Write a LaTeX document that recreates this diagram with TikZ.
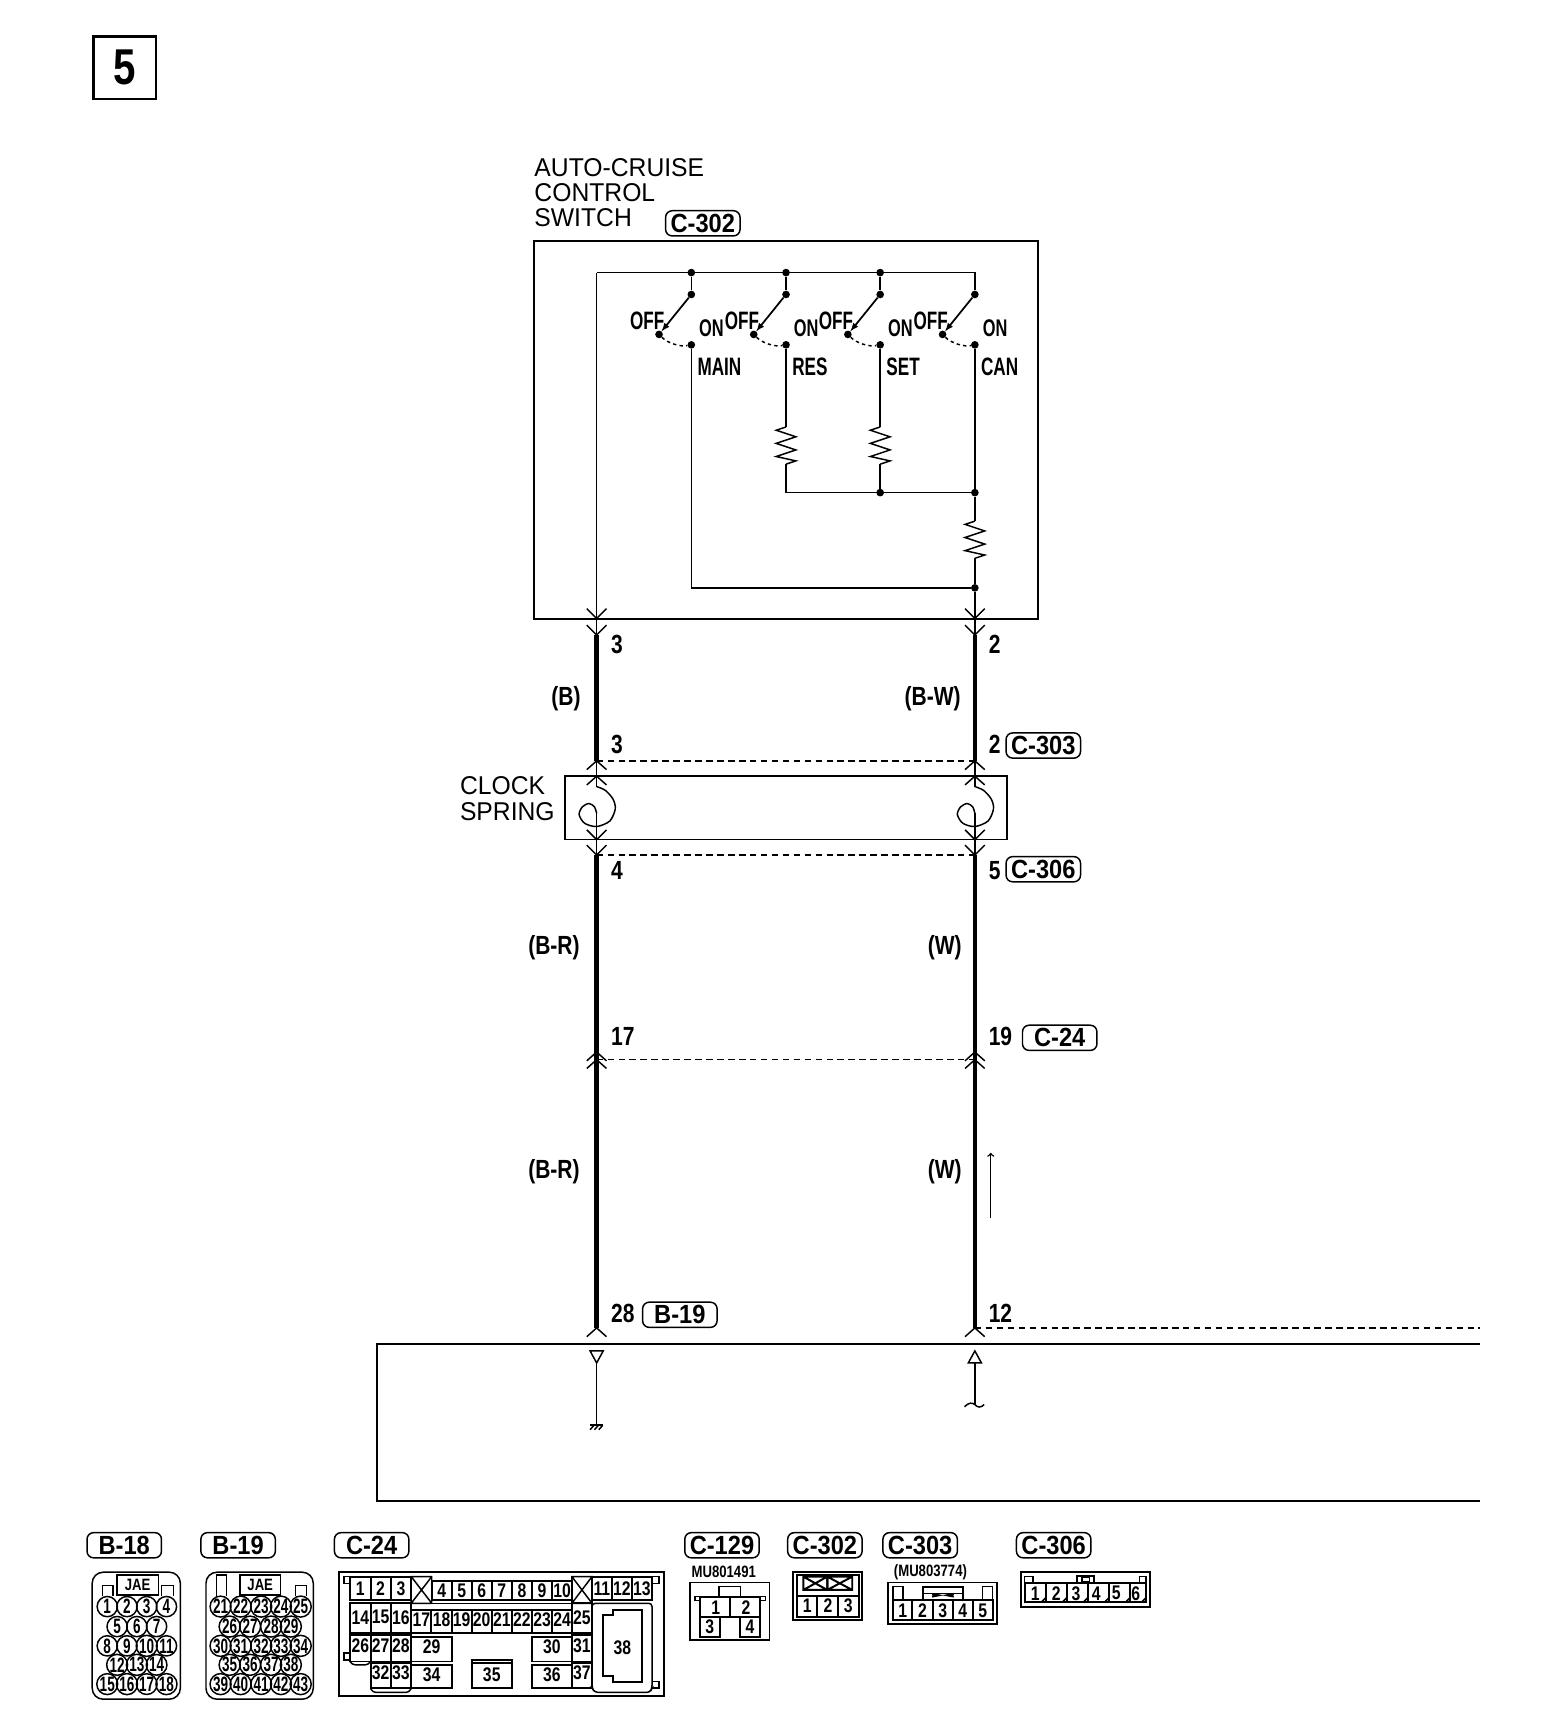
\documentclass[tikz,border=0pt]{standalone}
\usepackage{fontspec}
\setmainfont{Liberation Sans}[FakeStretch=0.96]
\newfontfamily\wirefont{Liberation Sans}[FakeStretch=0.8]
\newfontfamily\switchfont{Liberation Sans}[FakeStretch=0.68]
\newfontfamily\tagfont{Liberation Sans}[FakeStretch=0.9]
\newfontfamily\pinfont{Liberation Sans}[FakeStretch=0.65]

\tikzset{
  fine/.style = {line width=1.35pt},
  edge/.style = {line width=1.8pt},
  wire/.style = {line width=4pt},
  dot/.style = {circle, fill, inner sep=0, minimum size=7},
  plain/.style = {font=\fontsize{23.5}{23.5}\selectfont, inner sep=0, anchor=west},
  wirelab/.style = {font=\wirefont\bfseries\fontsize{24}{24}\selectfont, inner sep=0},
  swlab/.style = {font=\switchfont\bfseries\fontsize{23}{23}\selectfont, inner sep=0},
  tag/.style = {draw, fine, rounded corners=6, minimum width=68, minimum height=23, inner sep=0,
    font=\tagfont\bfseries\fontsize{24}{24}\selectfont},
  cell/.style = {font=\wirefont\bfseries\fontsize{18}{18}\selectfont, inner sep=0},
  round pin/.style = {draw, fine, circle, minimum size=18.5, inner sep=0,
    font=\pinfont\bfseries\fontsize{19}{19}\selectfont},
  part/.style = {font=\wirefont\bfseries\fontsize{15}{15}\selectfont, inner sep=0},
  chevup/.pic = {\draw[fine] (-9,8) -- (0,0) -- (9,8);},
  chevdown/.pic = {\draw[fine] (-9,-9) -- (0,0) -- (9,-9);},
  resist/.pic = {\draw[fine] (0,0) -- (-9,3) -- (9,9) -- (-9,15) -- (9,21) -- (-9,27) -- (9,31) -- (0,34);},
  spring/.pic = {
    \draw[fine] (0,0) -- (0,9.5);
    \draw[fine] plot[smooth] coordinates {(0,9.5) (8,13) (15,21) (17,30) (12,41) (0,46) (-11,43) (-16,35) (-13,28) (-7,25) (-2,28) (0,34)};
    \draw[fine] (0,34) -- (0,58);
  },
}

\begin{document}
\begin{tikzpicture}[x=1pt, y=-1pt]
  \useasboundingbox (0,0) rectangle (1432.3,1567.5);

  % page number
  \node[draw, line width=2.4pt, minimum size=57, inner sep=0, font=\wirefont\bfseries\fontsize{46}{46}\selectfont] (page) at (114,62) {5};

  % switch
  \node[plain] (title1) at (488,153) {AUTO-CRUISE};
  \node[plain] (title2) at (488,176) {CONTROL};
  \node[plain] (title3) at (488,199) {SWITCH};
  \node[tag] (tag302) at (642,204) {C-302};
  \node[draw, edge, minimum width=460, minimum height=345, inner sep=0] (swbox) at (718,392.5) {};

  \coordinate (corner) at (545,249);
  \coordinate (railend) at (890.5,249);
  \foreach \n/\x/\lab in {1/631.5/MAIN, 2/718/RES, 3/804/SET, 4/890.5/CAN} {
    \node[dot] (up\n) at (\x,269) {};
    \node[dot] (off\n) at (\x-29.5,305.5) {};
    \node[dot] (on\n) at (\x,315) {};
    \draw[line width=1.6pt, -latex] (up\n) -- (off\n);
    \draw[fine, dash pattern=on 3pt off 3pt] (off\n) .. controls +(8,8) and +(-10,2) .. (on\n);
    \node[swlab, anchor=east] (offlab\n) at (\x-24.5,293) {OFF};
    \node[swlab, anchor=west] (onlab\n) at (\x+7,300) {\switchfont\fontsize{22}{22}\selectfont ON};
    \node[swlab, anchor=west] (name\n) at (\x+5.5,335) {\lab};
  }
  \node[dot] (rail1) at (631.5,249) {};
  \node[dot] (rail2) at (718,249) {};
  \node[dot] (rail3) at (804,249) {};
  \draw[fine] (corner) -- (railend) -- (up4);
  \foreach \n in {1,2,3} { \draw[fine] (rail\n) -- (up\n); }

  \coordinate (res2top) at (718,390);
  \coordinate (res2bot) at (718,424);
  \coordinate (res3top) at (804,390);
  \coordinate (res3bot) at (804,424);
  \coordinate (res4top) at (890.5,476);
  \coordinate (res4bot) at (890.5,510);
  \coordinate (join2) at (718,450);
  \node[dot] (join3) at (804,450) {};
  \node[dot] (join4) at (890.5,450) {};
  \node[dot] (join5) at (890.5,537) {};
  \coordinate (join1) at (631.5,537);
  \pic at (res2top) {resist};
  \pic at (res3top) {resist};
  \pic at (res4top) {resist};
  \draw[fine] (on2) -- (res2top);
  \draw[fine] (res2bot) -- (join2) -- (join4);
  \draw[fine] (on3) -- (res3top);
  \draw[fine] (res3bot) -- (join3);
  \draw[fine] (on4) -- (join4) -- (res4top);
  \draw[fine] (res4bot) -- (join5);
  \draw[fine] (on1) -- (join1) -- (join5);

  % wires
  \coordinate (la) at (545,565);
  \coordinate (ra) at (890.5,565);
  \coordinate (lb) at (545,580);
  \coordinate (rb) at (890.5,580);
  \coordinate (lc) at (545,695);
  \coordinate (rc) at (890.5,695);
  \coordinate (ld) at (545,709);
  \coordinate (rd) at (890.5,709);
  \coordinate (le) at (545,767);
  \coordinate (re) at (890.5,767);
  \coordinate (lf) at (545,781);
  \coordinate (rf) at (890.5,781);
  \coordinate (lg) at (545,961);
  \coordinate (rg) at (890.5,961);
  \coordinate (lh) at (545,968);
  \coordinate (rh) at (890.5,968);
  \coordinate (li) at (545,1213);
  \coordinate (ri) at (890.5,1213);
  \draw[fine] (corner) -- (lb);
  \draw[fine] (join5) -- (rb);
  \draw[wire] (lb) -- (lc);
  \draw[wire] (rb) -- (rc);
  \draw[fine] (lc) -- (ld);
  \draw[fine] (rc) -- (rd);
  \draw[fine] (le) -- (lf);
  \draw[fine] (re) -- (rf);
  \draw[wire] (lf) -- (li);
  \draw[wire] (rf) -- (ri);
  \foreach \p in {la,ra,lb,rb,le,re,lf,rf} { \pic at (\p) {chevdown}; }
  \foreach \p in {lc,rc,ld,rd,lg,rg,lh,rh,li,ri} { \pic at (\p) {chevup}; }
  \pic at (ld) {spring};
  \pic at (rd) {spring};

  \node[wirelab, anchor=west] (p3a) at (558,589) {3};
  \node[wirelab, anchor=west] (p2a) at (903,589) {2};
  \node[wirelab] (colb) at (517,638) {(B)};
  \node[wirelab] (colbw) at (852,638) {(B-W)};
  \node[wirelab, anchor=west] (p3b) at (558,680) {3};
  \node[wirelab, anchor=west] (p2b) at (903,680) {2};
  \node[tag] (tag303) at (953,681) {C-303};
  \draw[fine, dash pattern=on 6pt off 4pt] (lc) -- (rc);

  % clock spring
  \node[plain] (clock1) at (420,718) {CLOCK};
  \node[plain] (clock2) at (420,741) {SPRING};
  \node[draw, fine, minimum width=404, minimum height=58, inner sep=0] (cbox) at (718,738) {};

  \draw[fine, dash pattern=on 6pt off 4pt] (lf) -- (rf);
  \node[wirelab, anchor=west] (p4) at (558,795) {4};
  \node[wirelab, anchor=west] (p5) at (903,795) {5};
  \node[tag] (tag306) at (953,794) {C-306};
  \node[wirelab] (colbr1) at (506,866) {(B-R)};
  \node[wirelab] (colw1) at (863,866) {(W)};
  \node[wirelab, anchor=west] (p17) at (558,947) {17};
  \node[wirelab, anchor=west] (p19) at (903,947) {19};
  \node[tag] (tag24) at (968,948) {C-24};
  \draw[fine, dash pattern=on 6pt off 4pt] (lh) -- (rh);
  \node[wirelab] (colbr2) at (506,1070) {(B-R)};
  \node[wirelab] (colw2) at (863,1070) {(W)};
  \coordinate (flowa) at (905,1113);
  \coordinate (flowb) at (905,1053);
  \draw[fine, ->] (flowa) -- (flowb);
  \node[wirelab, anchor=west] (p28) at (558,1200) {28};
  \node[tag] (tag19) at (621,1201) {B-19};
  \node[wirelab, anchor=west] (p12) at (903,1200) {12};
  \coordinate (dashend) at (1352,1213);
  \draw[fine, dash pattern=on 6pt off 4pt] (ri) -- (dashend);

  % control unit
  \coordinate (ua) at (1352,1228);
  \coordinate (ub) at (344,1228);
  \coordinate (uc) at (344,1371);
  \coordinate (ud) at (1352,1371);
  \draw[edge] (ua) -- (ub) -- (uc) -- (ud);
  \coordinate (tria) at (545,1245);
  \coordinate (gnd) at (545,1301);
  \draw[fine, fill=white] (539,1234) -- (551,1234) -- (tria) -- cycle;
  \draw[fine] (tria) -- (gnd);
  \draw[edge] (539,1302) -- (551,1302);
  \foreach \x in {541,545,549} { \draw[fine] (\x+1.5,1302) -- (\x-2,1306); }
  \coordinate (trib) at (890.5,1245);
  \coordinate (cut) at (890.5,1283);
  \draw[fine, fill=white] (884.5,1245) -- (896.5,1245) -- (890.5,1234) -- cycle;
  \draw[fine] (trib) -- (cut);
  \draw[fine] (881,1285) .. controls (885,1281) and (888,1281) .. (cut) .. controls (893,1286) and (896,1286) .. (899,1283);

  % connector tags
  \foreach \nm/\x in {B-18/113.5, B-19/217.5, C-24/339.5, C-129/659.5, C-302/753.5, C-303/840.5, C-306/962.5} {
    \node[tag] (face\nm) at (\x,1411.5) {\nm};
  }

  % B-18, B-19 and C-24
  \begin{scope}[shift={(54.7,1388.5)}, x=.3606pt, y=-.304pt]
    \node[draw, fine, rounded corners=10, minimum width=80.5, minimum height=116, inner sep=0] (b18) at (193.5,347.5) {};
    \node[draw, fine, minimum width=38, minimum height=18, inner sep=0, font=\wirefont\bfseries\fontsize{15}{15}\selectfont] (b18jae) at (197,195) {JAE};
    \draw[fine] (108,228) |- (135,197) -- (135,228);
    \draw[fine] (258,228) |- (288,197) -- (288,228);
    \foreach \n/\x/\y in {1/120/260,2/170/260,3/220/260,4/270/260,5/145/320,6/195/320,7/245/320,8/120/378,9/170/378,10/220/378,11/270/378,12/145/435,13/195/435,14/245/435,15/120/493,16/170/493,17/220/493,18/270/493} {
      \node[round pin] (b18p\n) at (\x,\y) {\n};
    }
    \node[draw, fine, rounded corners=10, minimum width=98, minimum height=116, inner sep=0] (b19) at (506,347.5) {};
    \node[draw, fine, minimum width=37, minimum height=18, inner sep=0, font=\wirefont\bfseries\fontsize{15}{15}\selectfont] (b19jae) at (507.5,195) {JAE};
    \draw[fine] (397,228) |- (422,165) -- (422,228);
    \draw[fine] (597,228) |- (625,197) -- (625,228);
    \foreach \n/\x/\y in {21/407/260,22/458/260,23/510/260,24/560/260,25/610/260,26/430/320,27/482/320,28/535/320,29/585/320,30/407/378,31/458/378,32/510/378,33/560/378,34/610/378,35/430/435,36/482/435,37/535/435,38/585/435,39/407/493,40/458/493,41/510/493,42/560/493,43/610/493} {
      \node[round pin] (b19p\n) at (\x,\y) {\n};
    }

    \draw[edge] (707,155) rectangle (1530,528);
    % first row
    \foreach \n/\a/\b in {1/735/787, 2/787/838, 3/838/890, 11/1348/1398, 12/1398/1449, 13/1449/1500} {
      \draw[edge] (\a,170) rectangle (\b,240);
      \node[cell] (cpin\n) at ({(\a+\b)/2},205) {\n};
    }
    \foreach \n/\a/\b in {4/942/993, 5/993/1043, 6/1043/1094, 7/1094/1145, 8/1145/1196, 9/1196/1247, 10/1247/1297} {
      \draw[edge] (\a,183) rectangle (\b,240);
      \node[cell] (cpin\n) at ({(\a+\b)/2},212) {\n};
    }
    \draw[fine] (890,170) rectangle (942,250) (890,170) -- (942,250) (942,170) -- (890,250);
    \draw[fine] (1297,170) rectangle (1348,250) (1297,170) -- (1348,250) (1348,170) -- (1297,250);
    \draw[fine] (942,250) -- (1297,250);
    % second row
    \foreach \n/\a/\b in {14/735/787, 15/787/838, 16/838/890, 25/1297/1348} {
      \draw[edge] (\a,250) rectangle (\b,340);
      \node[cell] (cpin\n) at ({(\a+\b)/2},292) {\n};
    }
    \foreach \n/\a/\b in {17/890/941, 18/941/993, 19/993/1043, 20/1043/1094, 21/1094/1145, 22/1145/1196, 23/1196/1247, 24/1247/1297} {
      \draw[edge] (\a,270) rectangle (\b,340);
      \node[cell] (cpin\n) at ({(\a+\b)/2},298) {\n};
    }
    % third and fourth row
    \foreach \n/\a/\b in {26/735/787, 27/787/838, 28/838/890, 31/1297/1348} {
      \draw[edge] (\a,345) rectangle (\b,425);
      \node[cell] (cpin\n) at ({(\a+\b)/2},377) {\n};
    }
    \foreach \n/\a/\b in {29/890/993, 30/1196/1297} {
      \draw[edge] (\a,350) rectangle (\b,425);
      \node[cell] (cpin\n) at ({(\a+\b)/2},382) {\n};
    }
    \foreach \n/\a/\b in {32/787/838, 33/838/890, 37/1297/1348} {
      \draw[edge] (\a,430) rectangle (\b,505);
      \node[cell] (cpin\n) at ({(\a+\b)/2},458) {\n};
    }
    \foreach \n/\a/\b/\t in {34/890/993/435, 35/1043/1145/420, 36/1196/1297/435} {
      \draw[edge] (\a,\t) rectangle (\b,505);
      \node[cell] (cpin\n) at ({(\a+\b)/2},465) {\n};
    }
    \draw[fine] (1043,430) -- (1145,430);
    \draw[fine, rounded corners=3] (735,425) -- (740,435) -- (782,435) -- (787,425);
    \draw[fine, rounded corners=3] (787,505) -- (792,518) -- (885,518) -- (890,505);
    \draw[fine, rounded corners=3] (1348,250) -- (1348,505) -- (1355,518) -- (1495,518) -- (1500,505) -- (1500,250) -- cycle;
    \draw[edge] (1375,285) -- (1400,285) -- (1400,270) -- (1475,270) -- (1475,488) -- (1400,488) -- (1400,470) -- (1375,470) -- cycle;
    \node[cell] (cpin38) at (1425,385) {38};
    \draw[fine] (735,170) -- (720,170) -- (720,190) -- (735,190);
    \draw[fine] (735,400) -- (720,400) -- (720,420) -- (735,420);
    \draw[fine] (1500,170) -- (1518,170) -- (1518,190) -- (1500,190);
    \draw[fine] (1500,485) -- (1518,485) -- (1518,505) -- (1500,505);
  \end{scope}

  % C-129, C-302, C-303, C-306
  \begin{scope}[shift={(612.8,1388.5)}, x=.304pt, y=-.304pt]
    \node[part] (mu801) at (159,156) {MU801491};
    \draw[fine] (58,187) rectangle (297,361);
    \draw[fine] (145,230) |- (210,200) -- (210,230);
    \draw[edge] (88,230) rectangle (268,290);
    \draw[edge] (178,230) -- (178,290);
    \draw[fine] (88,230) -- (72,230) -- (72,242) -- (88,242);
    \draw[fine] (268,230) -- (284,230) -- (284,242) -- (268,242);
    \draw[edge] (88,290) rectangle (148,350);
    \draw[edge] (208,290) rectangle (268,350);
    \foreach \n/\x/\y in {1/135/262, 2/226/262, 3/117/320, 4/238/320} {
      \node[cell] (dpin\n) at (\x,\y) {\n};
    }

    \draw[edge] (368,155) rectangle (575,300);
    \draw[edge] (378,165) rectangle (565,290);
    \draw[edge] (398,170) rectangle (470,210) (398,170) -- (470,210) (470,170) -- (398,210);
    \draw[edge] (470,170) rectangle (545,210) (470,170) -- (545,210) (545,170) -- (470,210);
    \draw[edge] (378,228) -- (565,228);
    \draw[edge] (440,228) -- (440,290) (502,228) -- (502,290);
    \foreach \n/\x in {1/410, 2/472, 3/533} {
      \node[cell] (epin\n) at (\x,258) {\n};
    }

    \node[part] (mu803) at (780,158) {(MU803774)};
    \draw[fine] (653,187) rectangle (980,313);
    \draw[fine] (668,200) rectangle (697,240);
    \draw[fine] (937,200) rectangle (967,240);
    \draw[edge] (757,200) rectangle (878,240);
    \draw[fine] (757,220) -- (878,220);
    \draw[edge] (785,230) -- (805,226) -- (785,222) (850,230) -- (830,226) -- (850,222);
    \draw[edge] (668,240) rectangle (967,300);
    \foreach \n/\a/\b in {1/668/725, 2/725/787, 3/787/847, 4/847/907, 5/907/967} {
      \draw[edge] (\a,240) -- (\a,300);
      \node[cell] (fpin\n) at ({(\a+\b)/2},272) {\n};
    }

    \draw[edge] (1052,155) rectangle (1440,262);
    \draw[fine] (1063,190) -- (1063,170) -- (1088,170) -- (1088,190);
    \draw[fine] (1408,190) -- (1408,170) -- (1428,170) -- (1428,190);
    \draw[fine] (1220,190) -- (1220,168) -- (1272,168) -- (1272,190);
    \draw[fine] (1235,172) rectangle (1258,185);
    \draw[edge] (1063,190) rectangle (1428,245);
    \foreach \n/\a/\b/\t in {1/1063/1127/1095, 2/1127/1190/1158, 3/1190/1253/1217, 4/1253/1317/1278, 5/1317/1380/1338, 6/1380/1428/1397} {
      \draw[edge] (\a,190) -- (\a,245);
      \draw[fine] (\b-12,245) -- (\b,233);
      \node[cell] (gpin\n) at (\t,220) {\n};
    }
  \end{scope}
\end{tikzpicture}
\end{document}
